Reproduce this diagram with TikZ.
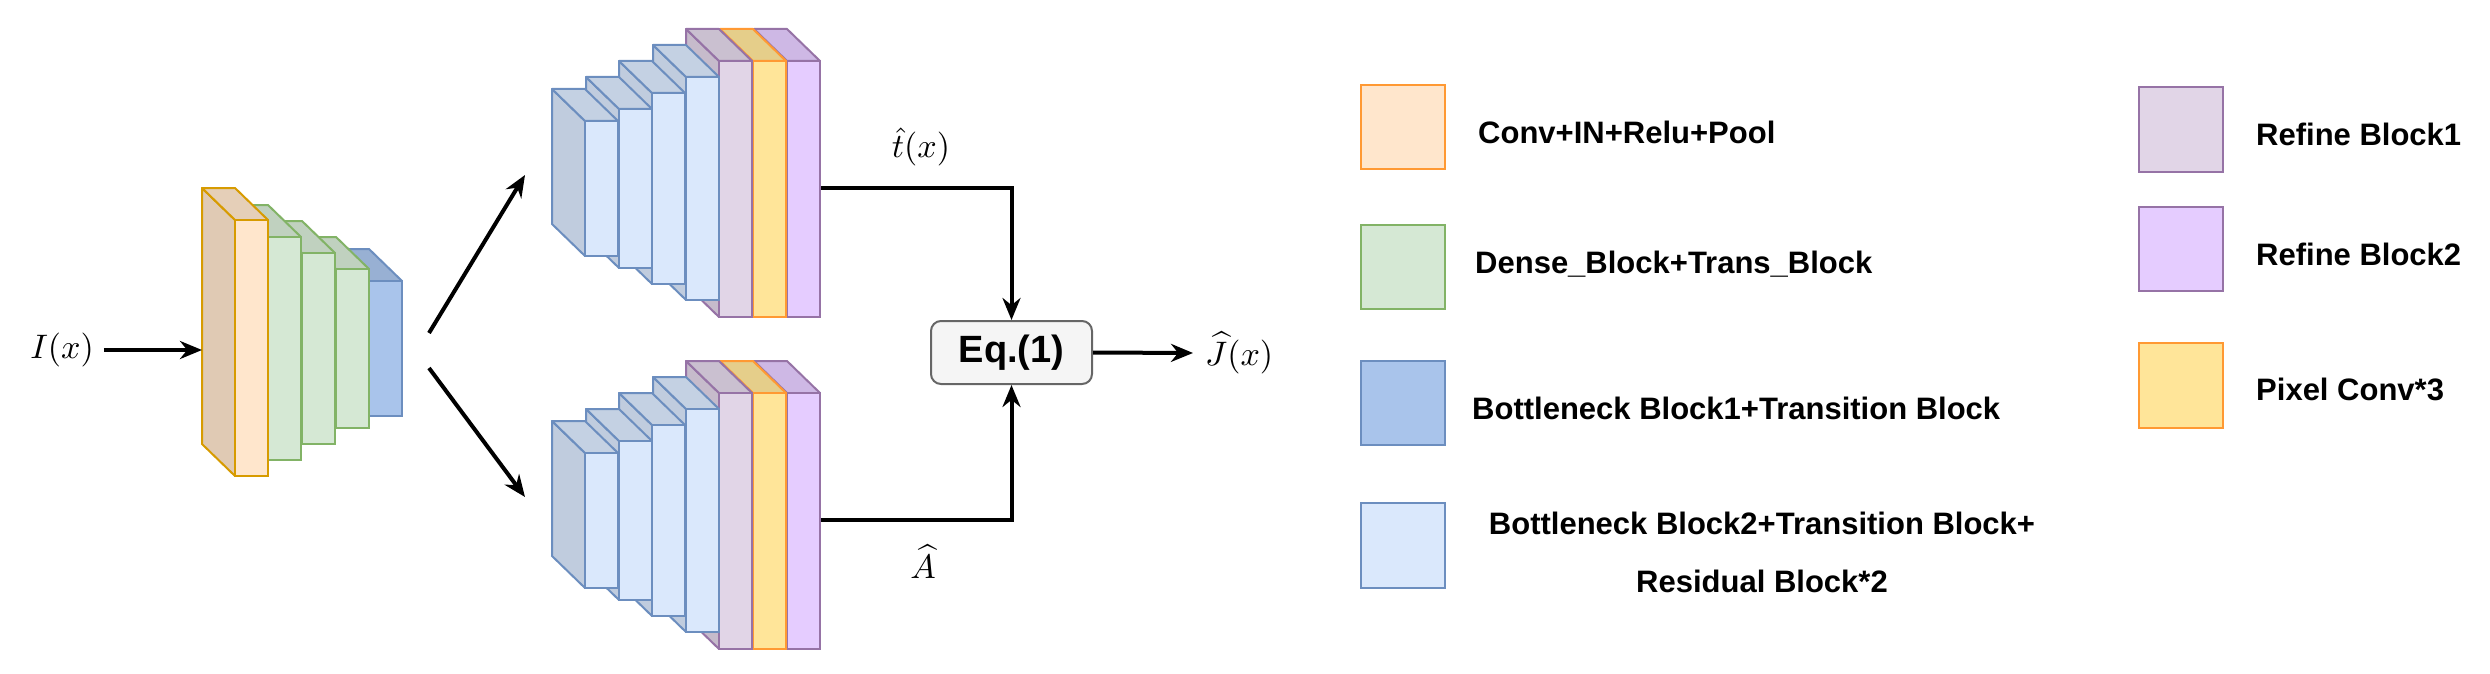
\documentclass[tikz,border=0pt]{standalone}
\usepackage{amsmath}
\usepackage{graphicx}
\usepackage{fontspec}
\setmainfont{Liberation Sans}
\usetikzlibrary{arrows.meta}
\definecolor{orS}{HTML}{D79B00}\definecolor{orF}{HTML}{FFE6CC}
\definecolor{grS}{HTML}{82B366}\definecolor{grF}{HTML}{D5E8D4}
\definecolor{blS}{HTML}{6C8EBF}\definecolor{blF}{HTML}{A9C4EB}
\definecolor{lbF}{HTML}{DAE8FC}
\definecolor{r1S}{HTML}{9673A6}\definecolor{r1F}{HTML}{E1D5E7}
\definecolor{yeS}{HTML}{FF9933}\definecolor{yeF}{HTML}{FFE599}
\definecolor{puF}{HTML}{E5CCFF}
\definecolor{eqS}{HTML}{666666}\definecolor{eqF}{HTML}{F5F5F5}
\newcommand\mycub[5]{% x1, ytop, ybot, fill, stroke
  \pgfmathsetmacro\xb{#1+33}
  \filldraw[draw=#5,fill=#4!88!black,line width=2pt,line join=round] (#1,#2)--(#1-33,#2-32)--(#1-33,#3-32)--(#1,#3)--cycle;
  \filldraw[draw=#5,fill=#4!90!black,line width=2pt,line join=round] (#1,#2)--(#1-33,#2-32)--(\xb-33,#2-32)--(\xb,#2)--cycle;
  \filldraw[draw=#5,fill=#4,line width=2pt] (#1,#2) rectangle (\xb,#3);}
\newcommand\mystack[1]{%
  \mycub{787}{61+#1}{317+#1}{puF}{r1S}
  \mycub{753}{61+#1}{317+#1}{yeF}{yeS}
  \mycub{719}{61+#1}{317+#1}{r1F}{r1S}
  \mycub{686}{77+#1}{300+#1}{lbF}{blS}
  \mycub{652}{93+#1}{284+#1}{lbF}{blS}
  \mycub{619}{109+#1}{268+#1}{lbF}{blS}
  \mycub{585}{121+#1}{256+#1}{lbF}{blS}}
\newcommand\mybigmath[1]{\scalebox{3.4}{$#1$}}
\tikzset{arr/.style={line width=4pt,-{Stealth[length=22pt,width=18pt]}},
  lbl/.style={font=\bfseries\fontsize{31}{36}\selectfont,anchor=west,inner sep=0pt},
  lg/.style={line width=2pt},
  mth/.style={inner sep=0pt}}
\begin{document}
\begin{tikzpicture}[x=1pt,y=-1pt]
\useasboundingbox (0,0) rectangle (2490,674);
% left stack
\mycub{369}{281}{416}{blF}{blS}
\mycub{336}{269}{428}{grF}{grS}
\mycub{302}{253}{444}{grF}{grS}
\mycub{268}{237}{460}{grF}{grS}
\mycub{235}{220}{476}{orF}{orS}
% branches
\mystack{0}
\mystack{332}
% labels and arrows
\node[mth] (I) at (62,350) {\mybigmath{I(x)}};
\coordinate (inE) at (202,350);
\draw[arr] (I.east)++(10,0) -- (inE);
\coordinate (s1) at (429,333); \coordinate (e1) at (525,175);
\coordinate (s2) at (429,368); \coordinate (e2) at (525,497);
\draw[arr] (s1) -- (e1);
\draw[arr] (s2) -- (e2);
\node[draw=eqS,fill=eqF,line width=2pt,rounded corners=10pt,minimum width=161pt,minimum height=63pt,font=\bfseries\fontsize{38}{44}\selectfont] (eq) at (1011.5,352.5) {Eq.(1)};
\coordinate (tOut) at (821,188); \coordinate (aOut) at (821,520);
\draw[arr] (tOut) -- (eq.north |- tOut) -- (eq.north);
\draw[arr] (aOut) -- (eq.south |- aOut) -- (eq.south);
\node[mth] (t) at (921,147) {\mybigmath{\hat{t}(x)}};
\node[mth] (A) at (923,562) {\mybigmath{\widehat{A}}};
\node[mth,anchor=west] (J) at (1205,353) {\mybigmath{\widehat{J}(x)}};
\draw[arr] (eq.east) -- ([xshift=-12pt]J.west);
% legend
\draw[lg,draw=yeS,fill=orF] (1361,85) rectangle (1445,169);
\node[lbl] (l1) at (1478,132) {Conv+IN+Relu+Pool};
\draw[lg,draw=grS,fill=grF] (1361,225) rectangle (1445,309);
\node[lbl] (l2) at (1475,264) {Dense\_Block+Trans\_Block};
\draw[lg,draw=blS,fill=blF] (1361,361) rectangle (1445,445);
\node[lbl] (l3) at (1472,408) {Bottleneck Block1+Transition Block};
\draw[lg,draw=blS,fill=lbF] (1361,503) rectangle (1445,588);
\node[lbl,anchor=center,align=center,font=\bfseries\fontsize{31}{58}\selectfont] (l4) at (1762,552) {Bottleneck Block2+Transition Block+\\Residual Block*2};
\draw[lg,draw=r1S,fill=r1F] (2139,87) rectangle (2223,172);
\node[lbl] (l5) at (2256,134) {Refine Block1};
\draw[lg,draw=r1S,fill=puF] (2139,207) rectangle (2223,291);
\node[lbl] (l6) at (2256,254) {Refine Block2};
\draw[lg,draw=yeS,fill=yeF] (2139,343) rectangle (2223,428);
\node[lbl] (l7) at (2256,389) {Pixel Conv*3};
\end{tikzpicture}
\end{document}
